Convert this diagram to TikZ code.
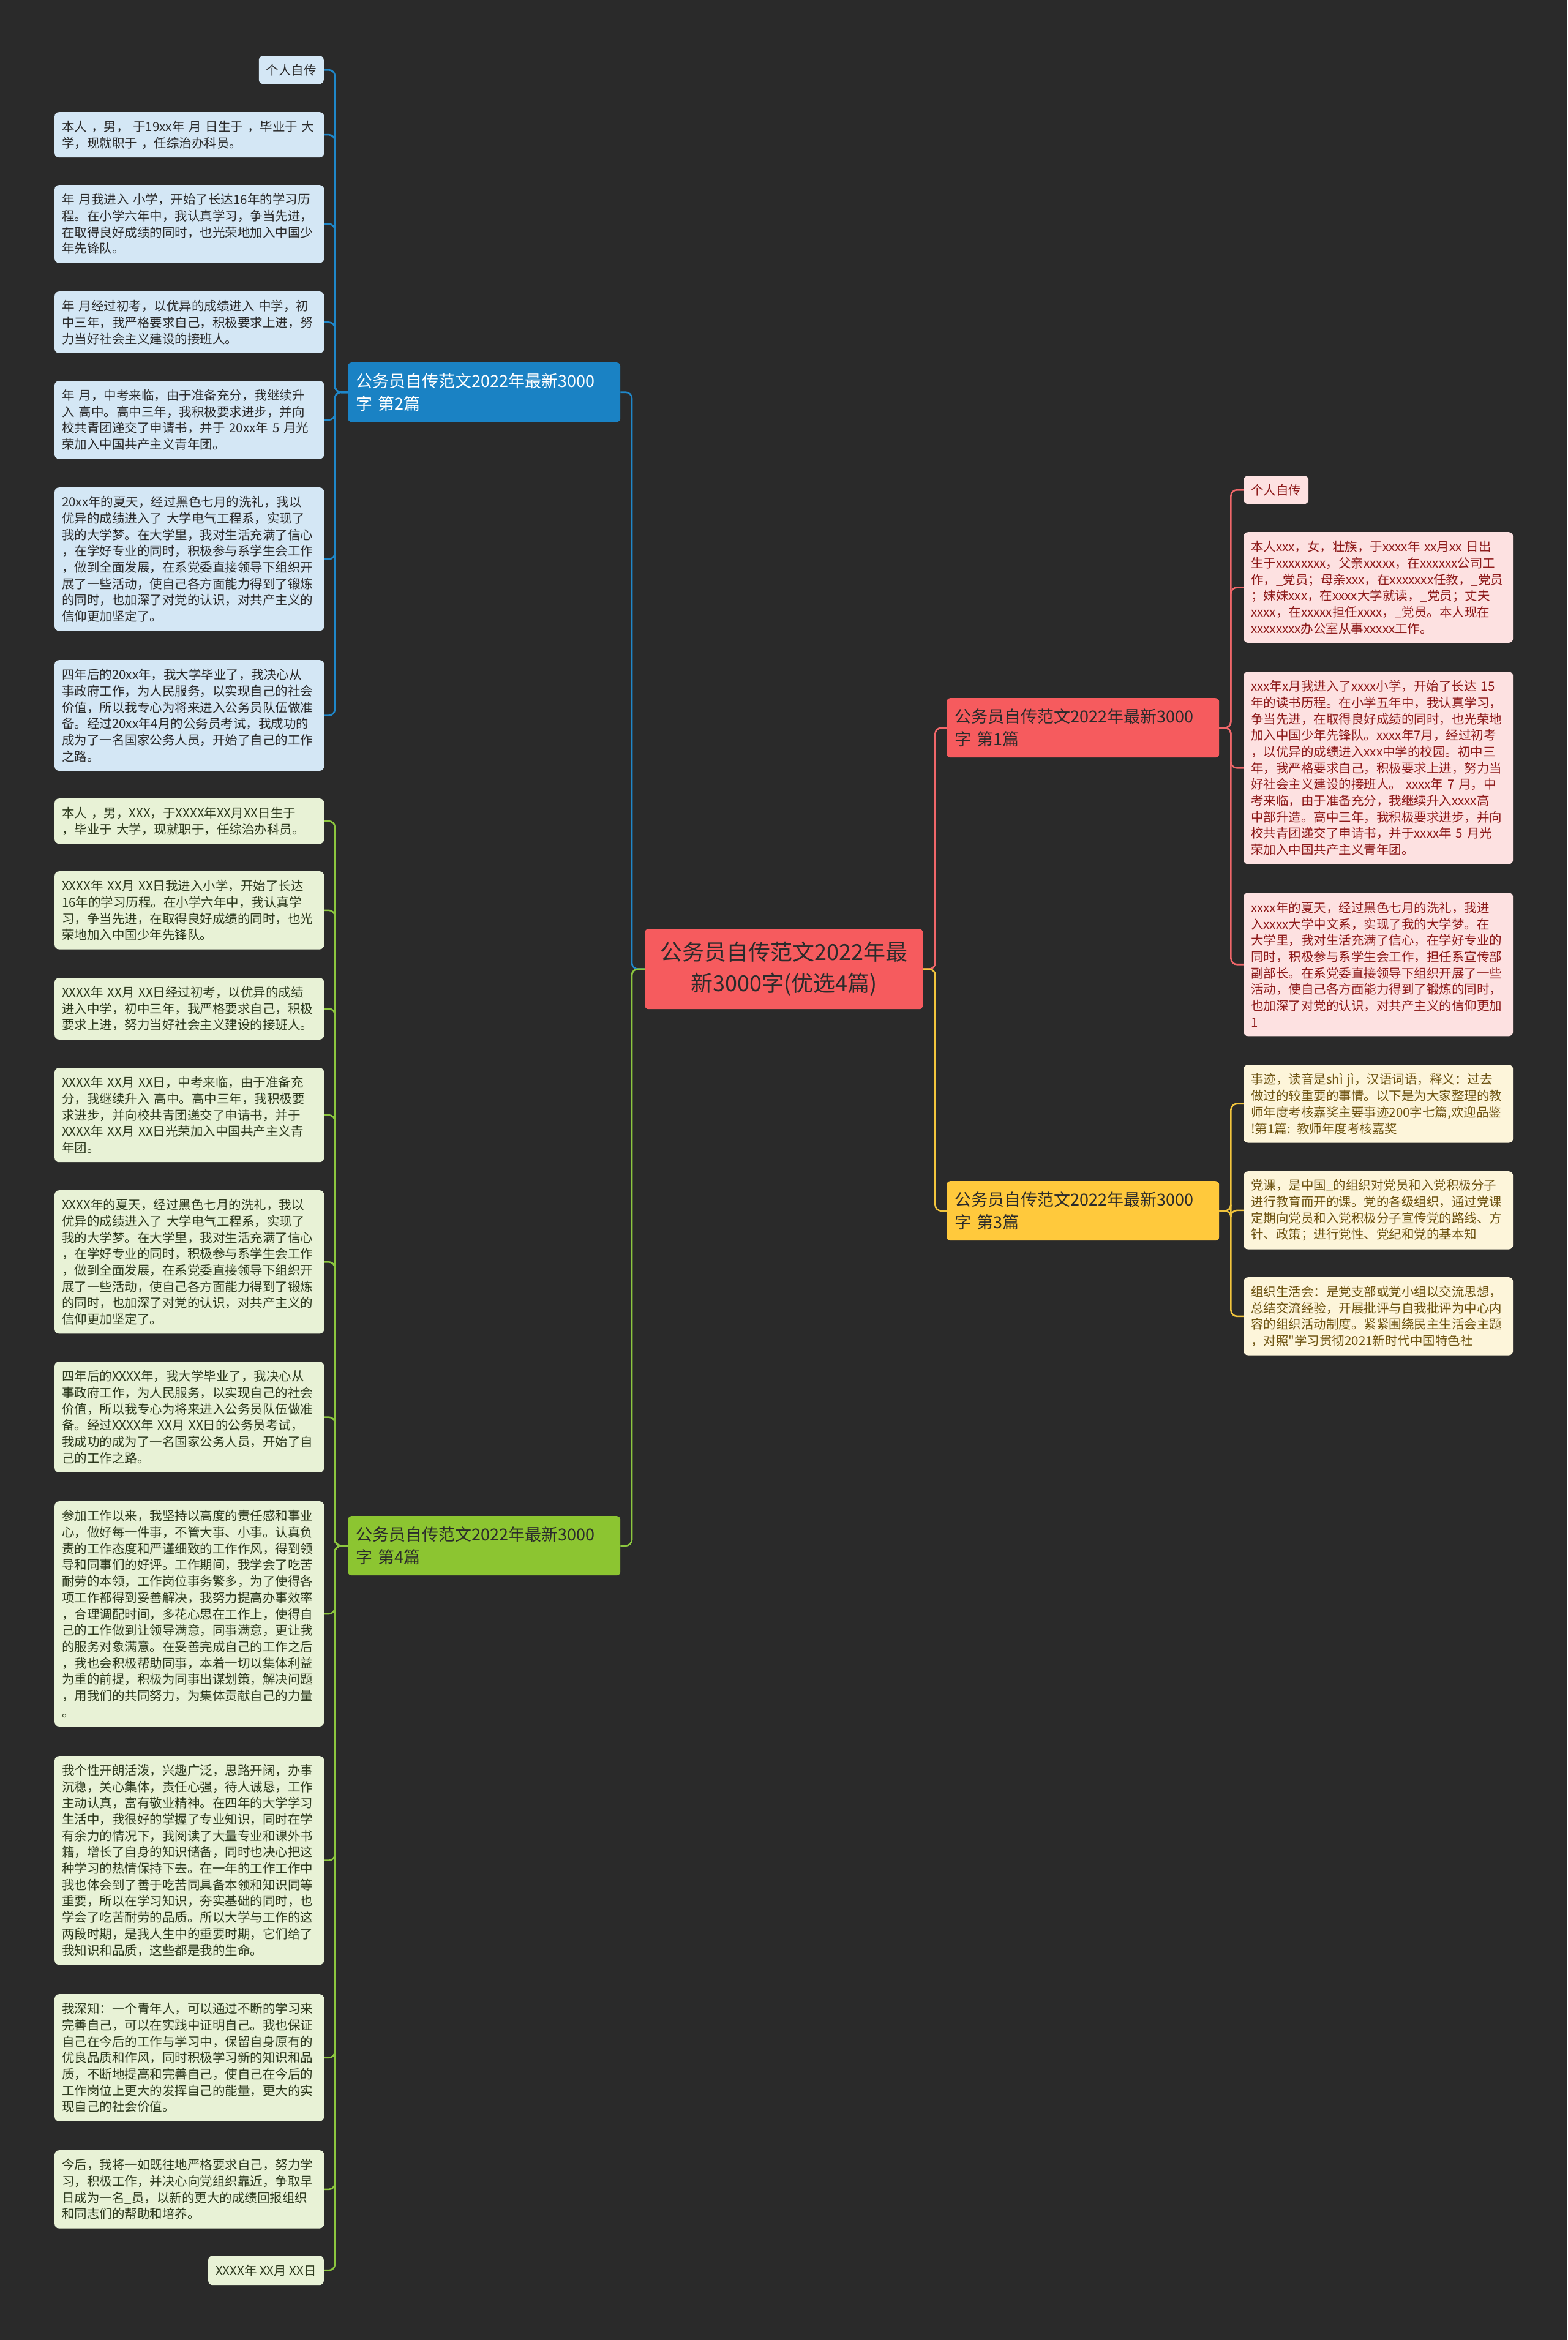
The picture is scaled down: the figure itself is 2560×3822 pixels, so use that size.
\documentclass[tikz,border=0pt]{standalone}
\usepackage{fontspec}
\setmainfont{Noto Sans CJK SC}[Ligatures=TeXOff]
\definecolor{bg}{HTML}{2A2A2A}
\definecolor{rootC}{HTML}{F65B5E}
\definecolor{blueB}{HTML}{1A82C4}
\definecolor{yellowB}{HTML}{FFC93C}
\definecolor{greenB}{HTML}{8CC531}
\definecolor{blueL}{HTML}{D4E7F5}
\definecolor{greenL}{HTML}{E8F2D6}
\definecolor{pinkL}{HTML}{FDE1E1}
\definecolor{yellowL}{HTML}{FDF5DA}
\definecolor{blueLine}{HTML}{1F87C9}
\definecolor{greenLine}{HTML}{8CC63F}
\definecolor{pinkLine}{HTML}{F0676A}
\definecolor{yellowLine}{HTML}{F2C53D}
\definecolor{darkT}{HTML}{2B2B2B}
\definecolor{greenT}{HTML}{2E3B1F}
\definecolor{pinkT}{HTML}{8E1B1B}
\definecolor{yellowT}{HTML}{6E5412}
\begin{document}
\begin{tikzpicture}[x=1pt,y=-1pt,
  leaf/.style={anchor=north west, rounded corners=7pt, minimum width=440pt, text width=416pt,
    inner xsep=12pt, inner ysep=0pt, align=left, font=\fontsize{20.5}{26.7}\selectfont},
  tag/.style={anchor=north east, rounded corners=7pt, minimum height=46pt, inner xsep=12pt,
    inner ysep=0pt, font=\fontsize{20.5}{26.7}\selectfont},
  nl/.style={minimum height={26.7*#1+20.5}},
  bleaf/.style={leaf, fill=blueL, text=darkT},
  gleaf/.style={leaf, fill=greenL, text=greenT},
  pleaf/.style={leaf, fill=pinkL, text=pinkT},
  yleaf/.style={leaf, fill=yellowL, text=yellowT},
  branch/.style={anchor=north west, rounded corners=6pt, minimum width=445pt, minimum height=97pt,
    text width=419pt, inner xsep=13pt, inner ysep=0pt, align=left, text=darkT,
    font=\fontsize{27}{37}\selectfont},
  centre/.style={anchor=north west, rounded corners=6pt, minimum width=454pt, minimum height=131pt,
    align=center, fill=rootC, text=darkT, font=\fontsize{36}{51}\selectfont},
  link/.style={line width=2.6pt, rounded corners=10pt},
  bl/.style={link, draw=blueLine},
  gl/.style={link, draw=greenLine},
  pl/.style={link, draw=pinkLine},
  yl/.style={link, draw=yellowLine}
]
\fill[bg] (0,0) rectangle (2560,3822);
\useasboundingbox (0,0) rectangle (2560,3822);

% root and branches
\node[centre] (root) at (1053,1517) {公务员自传范文2022年最\\新3000字(优选4篇)};
\node[branch, fill=rootC] (p) at (1546,1140) {公务员自传范文2022年最新3000\\字 第1篇};
\node[branch, fill=blueB, text=white] (b) at (568,592) {公务员自传范文2022年最新3000\\字 第2篇};
\node[branch, fill=yellowB] (y) at (1546,1929) {公务员自传范文2022年最新3000\\字 第3篇};
\node[branch, fill=greenB] (g) at (568,2476) {公务员自传范文2022年最新3000\\字 第4篇};

% blue leaves
\node[tag, fill=blueL, text=darkT] (b1) at (529,91) {个人自传};
\node[bleaf, nl=2] (b2) at (89,183) {本人 ，男， 于19xx年 月 日生于 ，毕业于 大\\学，现就职于 ，任综治办科员。};
\node[bleaf, nl=4] (b3) at (89,302) {年 月我进入 小学，开始了长达16年的学习历\\程。在小学六年中，我认真学习，争当先进，\\在取得良好成绩的同时，也光荣地加入中国少\\年先锋队。};
\node[bleaf, nl=3] (b4) at (89,476) {年 月经过初考，以优异的成绩进入 中学，初\\中三年，我严格要求自己，积极要求上进，努\\力当好社会主义建设的接班人。};
\node[bleaf, nl=4] (b5) at (89,622) {年 月，中考来临，由于准备充分，我继续升\\入 高中。高中三年，我积极要求进步，并向\\校共青团递交了申请书，并于 20xx年 5 月光\\荣加入中国共产主义青年团。};
\node[bleaf, nl=8] (b6) at (89,796) {20xx年的夏天，经过黑色七月的洗礼，我以\\优异的成绩进入了 大学电气工程系，实现了\\我的大学梦。在大学里，我对生活充满了信心\\，在学好专业的同时，积极参与系学生会工作\\，做到全面发展，在系党委直接领导下组织开\\展了一些活动，使自己各方面能力得到了锻炼\\的同时，也加深了对党的认识，对共产主义的\\信仰更加坚定了。};
\node[bleaf, nl=6] (b7) at (89,1078) {四年后的20xx年，我大学毕业了，我决心从\\事政府工作，为人民服务，以实现自己的社会\\价值，所以我专心为将来进入公务员队伍做准\\备。经过20xx年4月的公务员考试，我成功的\\成为了一名国家公务人员，开始了自己的工作\\之路。};

% green leaves
\node[gleaf, nl=2] (g1) at (89,1304) {本人 ，男，XXX，于XXXX年XX月XX日生于\\，毕业于 大学，现就职于，任综治办科员。};
\node[gleaf, nl=4] (g2) at (89,1423) {XXXX年 XX月 XX日我进入小学，开始了长达\\16年的学习历程。在小学六年中，我认真学\\习，争当先进，在取得良好成绩的同时，也光\\荣地加入中国少年先锋队。};
\node[gleaf, nl=3] (g3) at (89,1597) {XXXX年 XX月 XX日经过初考，以优异的成绩\\进入中学，初中三年，我严格要求自己，积极\\要求上进，努力当好社会主义建设的接班人。};
\node[gleaf, nl=5] (g4) at (89,1744) {XXXX年 XX月 XX日，中考来临，由于准备充\\分，我继续升入 高中。高中三年，我积极要\\求进步，并向校共青团递交了申请书，并于\\XXXX年 XX月 XX日光荣加入中国共产主义青\\年团。};
\node[gleaf, nl=8] (g5) at (89,1944) {XXXX年的夏天，经过黑色七月的洗礼，我以\\优异的成绩进入了 大学电气工程系，实现了\\我的大学梦。在大学里，我对生活充满了信心\\，在学好专业的同时，积极参与系学生会工作\\，做到全面发展，在系党委直接领导下组织开\\展了一些活动，使自己各方面能力得到了锻炼\\的同时，也加深了对党的认识，对共产主义的\\信仰更加坚定了。};
\node[gleaf, nl=6] (g6) at (89,2224) {四年后的XXXX年，我大学毕业了，我决心从\\事政府工作，为人民服务，以实现自己的社会\\价值，所以我专心为将来进入公务员队伍做准\\备。经过XXXX年 XX月 XX日的公务员考试，\\我成功的成为了一名国家公务人员，开始了自\\己的工作之路。};
\node[gleaf, nl=13] (g7) at (89,2452) {参加工作以来，我坚持以高度的责任感和事业\\心，做好每一件事，不管大事、小事。认真负\\责的工作态度和严谨细致的工作作风，得到领\\导和同事们的好评。工作期间，我学会了吃苦\\耐劳的本领，工作岗位事务繁多，为了使得各\\项工作都得到妥善解决，我努力提高办事效率\\，合理调配时间，多花心思在工作上，使得自\\己的工作做到让领导满意，同事满意，更让我\\的服务对象满意。在妥善完成自己的工作之后\\，我也会积极帮助同事，本着一切以集体利益\\为重的前提，积极为同事出谋划策，解决问题\\，用我们的共同努力，为集体贡献自己的力量\\。};
\node[gleaf, nl=12] (g8) at (89,2868) {我个性开朗活泼，兴趣广泛，思路开阔，办事\\沉稳，关心集体，责任心强，待人诚恳，工作\\主动认真，富有敬业精神。在四年的大学学习\\生活中，我很好的掌握了专业知识，同时在学\\有余力的情况下，我阅读了大量专业和课外书\\籍，增长了自身的知识储备，同时也决心把这\\种学习的热情保持下去。在一年的工作工作中\\我也体会到了善于吃苦同具备本领和知识同等\\重要，所以在学习知识，夯实基础的同时，也\\学会了吃苦耐劳的品质。所以大学与工作的这\\两段时期，是我人生中的重要时期，它们给了\\我知识和品质，这些都是我的生命。};
\node[gleaf, nl=7] (g9) at (89,3257) {我深知：一个青年人，可以通过不断的学习来\\完善自己，可以在实践中证明自己。我也保证\\自己在今后的工作与学习中，保留自身原有的\\优良品质和作风，同时积极学习新的知识和品\\质，不断地提高和完善自己，使自己在今后的\\工作岗位上更大的发挥自己的能量，更大的实\\现自己的社会价值。};
\node[gleaf, nl=4] (g10) at (89,3512) {今后，我将一如既往地严格要求自己，努力学\\习，积极工作，并决心向党组织靠近，争取早\\日成为一名\_员，以新的更大的成绩回报组织\\和同志们的帮助和培养。};
\node[tag, fill=greenL, text=greenT, minimum height=48pt] (g11) at (529,3684) {XXXX年 XX月 XX日};

% pink leaves
\node[tag, anchor=north west, fill=pinkL, text=pinkT] (p1) at (2031,777) {个人自传};
\node[pleaf, nl=6] (p2) at (2031,869) {本人xxx，女，壮族，于xxxx年 xx月xx 日出\\生于xxxxxxxx，父亲xxxxx，在xxxxxx公司工\\作，\_党员；母亲xxx，在xxxxxxx任教，\_党员\\；妹妹xxx，在xxxx大学就读，\_党员；丈夫\\xxxx，在xxxxx担任xxxx，\_党员。本人现在\\xxxxxxxx办公室从事xxxxx工作。};
\node[pleaf, nl=11] (p3) at (2031,1097) {xxx年x月我进入了xxxx小学，开始了长达 15\\年的读书历程。在小学五年中，我认真学习，\\争当先进，在取得良好成绩的同时，也光荣地\\加入中国少年先锋队。xxxx年7月，经过初考\\，以优异的成绩进入xxx中学的校园。初中三\\年，我严格要求自己，积极要求上进，努力当\\好社会主义建设的接班人。 xxxx年 7 月，中\\考来临，由于准备充分，我继续升入xxxx高\\中部升造。高中三年，我积极要求进步，并向\\校共青团递交了申请书，并于xxxx年 5 月光\\荣加入中国共产主义青年团。};
\node[pleaf, nl=8] (p4) at (2031,1458) {xxxx年的夏天，经过黑色七月的洗礼，我进\\入xxxx大学中文系，实现了我的大学梦。在\\大学里，我对生活充满了信心，在学好专业的\\同时，积极参与系学生会工作，担任系宣传部\\副部长。在系党委直接领导下组织开展了一些\\活动，使自己各方面能力得到了锻炼的同时，\\也加深了对党的认识，对共产主义的信仰更加\\1};

% yellow leaves
\node[yleaf, nl=4] (y1) at (2031,1739) {事迹，读音是shì jì，汉语词语，释义：过去\\做过的较重要的事情。以下是为大家整理的教\\师年度考核嘉奖主要事迹200字七篇,欢迎品鉴\\!第1篇: 教师年度考核嘉奖};
\node[yleaf, nl=4] (y2) at (2031,1913) {党课，是中国\_的组织对党员和入党积极分子\\进行教育而开的课。党的各级组织，通过党课\\定期向党员和入党积极分子宣传党的路线、方\\针、政策；进行党性、党纪和党的基本知};
\node[yleaf, nl=4] (y3) at (2031,2086) {组织生活会：是党支部或党小组以交流思想，\\总结交流经验，开展批评与自我批评为中心内\\容的组织活动制度。紧紧围绕民主生活会主题\\，对照"学习贯彻2021新时代中国特色社};

% connectors root -> branches
\draw[bl] (root.west) -- ++(-21,0) |- (b.east);
\draw[gl] (root.west) -- ++(-21,0) |- (g.east);
\draw[pl] (root.east) -- ++(20,0) |- (p.west);
\draw[yl] (root.east) -- ++(20,0) |- (y.west);

% branches -> leaves
\foreach \n in {b1,b2,b3,b4,b5,b6,b7}
  \draw[bl] (b.west) -- ++(-21,0) |- (\n.east);
\foreach \n in {g1,g2,g3,g4,g5,g6,g7,g8,g9,g10,g11}
  \draw[gl] (g.west) -- ++(-21,0) |- (\n.east);
\foreach \n in {p1,p2,p3,p4}
  \draw[pl] (p.east) -- ++(19,0) |- (\n.west);
\foreach \n in {y1,y2,y3}
  \draw[yl] (y.east) -- ++(19,0) |- (\n.west);
\end{tikzpicture}
\end{document}
